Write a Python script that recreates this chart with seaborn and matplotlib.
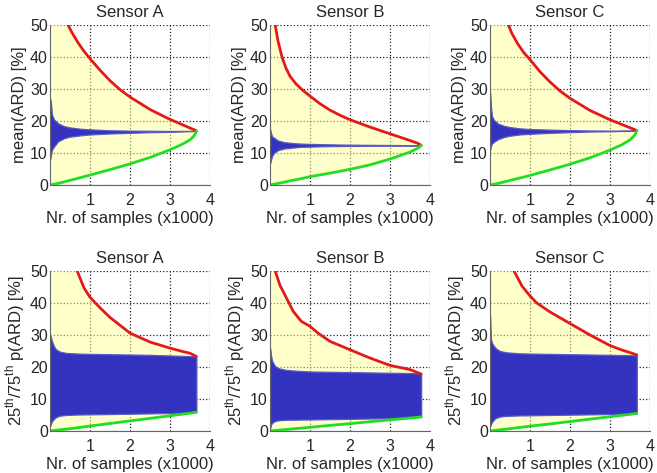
import numpy as np
import pandas as pd
import matplotlib
matplotlib.use('Agg')
import matplotlib.pyplot as plt
import seaborn as sns

sns.set_style('white')
plt.rcParams['font.family'] = ['Liberation Sans', 'DejaVu Sans']
plt.rcParams['mathtext.fontset'] = 'custom'
plt.rcParams['mathtext.rm'] = 'Liberation Sans'
plt.rcParams['axes.unicode_minus'] = False

sensors = ['Sensor A', 'Sensor B', 'Sensor C']
ylabels = ['mean(ARD) [%]', r'25$^{\mathrm{th}}$/75$^{\mathrm{th}}$ p(ARD) [%]']

# ---- top row: mean(ARD) ----
# bounds (red = upper, green = lower), x in thousands of samples
mean_a_x = [0, 0.2, 0.35, 0.45, 0.55, 0.7, 0.85, 1.0, 1.25, 1.5, 1.75, 2.0, 2.5, 3.0, 3.3, 3.5, 3.6, 3.63, 3.66]
mean_a_red = [85, 62, 54, 50, 47.6, 44.5, 41.8, 39.5, 35.9, 32.6, 29.8, 27.5, 23.6, 20.5, 18.9, 17.8, 17.3, 17.1, 16.9]
mean_a_green = [0, 0.5, 0.95, 1.3, 1.6, 2.1, 2.6, 3.1, 3.95, 4.8, 5.7, 6.6, 8.6, 11.0, 12.7, 14.1, 15.3, 15.9, 16.9]

mean_b_x = [0, 0.05, 0.13, 0.2, 0.3, 0.4, 0.5, 0.65, 0.82, 1.0, 1.25, 1.5, 1.75, 2.0, 2.5, 3.0, 3.5, 3.7, 3.78]
mean_b_red = [90, 68, 50, 45, 40, 36.5, 34, 31.6, 29.6, 27.8, 25.4, 23.4, 21.8, 20.4, 18.1, 16.0, 13.9, 13.0, 12.4]
mean_b_green = [0, 0.15, 0.35, 0.5, 0.75, 1.0, 1.3, 1.65, 2.1, 2.6, 3.15, 3.7, 4.3, 4.9, 6.3, 8.1, 10.3, 11.5, 12.4]

mean_c_x = [0, 0.2, 0.35, 0.46, 0.55, 0.7, 0.85, 1.0, 1.25, 1.5, 1.75, 2.0, 2.5, 3.0, 3.3, 3.5, 3.6, 3.64, 3.67]
mean_c_red = [85, 63, 55, 50, 47.3, 44.0, 41.3, 39.2, 35.4, 32.2, 29.4, 27.1, 23.3, 20.4, 18.9, 17.9, 17.4, 17.2, 17.0]
mean_c_green = [0, 0.5, 0.95, 1.3, 1.6, 2.05, 2.5, 3.0, 3.85, 4.7, 5.6, 6.5, 8.5, 10.9, 12.6, 14.1, 15.3, 16.0, 17.0]

# spread of the sub-sampled estimates (blue band)
band_top_x_a = [0, 0.02, 0.05, 0.1, 0.2, 0.35, 0.5, 0.75, 1.0, 1.5, 2.0, 2.5, 3.0, 3.4, 3.66]
band_top_x_b = [0, 0.02, 0.05, 0.1, 0.2, 0.35, 0.5, 0.75, 1.0, 1.5, 2.0, 2.5, 3.0, 3.5, 3.78]
band_top_x_c = [0, 0.02, 0.05, 0.1, 0.2, 0.35, 0.5, 0.75, 1.0, 1.5, 2.0, 2.5, 3.0, 3.4, 3.67]
mean_a_hi = [27, 26, 22, 20.5, 19.3, 18.4, 18.0, 17.6, 17.4, 17.1, 17.0, 16.95, 16.9, 16.9, 16.9]
mean_a_lo = [8, 9, 11, 12.0, 13.6, 14.6, 15.1, 15.5, 15.8, 16.1, 16.3, 16.5, 16.6, 16.8, 16.9]
mean_b_hi = [17.5, 16.5, 15.2, 14.8, 13.9, 13.4, 13.2, 12.95, 12.85, 12.7, 12.6, 12.55, 12.5, 12.45, 12.4]
mean_b_lo = [6.8, 7.5, 9.0, 10.0, 10.9, 11.4, 11.6, 11.9, 12.0, 12.15, 12.2, 12.25, 12.3, 12.35, 12.4]
mean_c_hi = [29, 25, 21.5, 20.3, 19.2, 18.5, 18.1, 17.7, 17.5, 17.3, 17.15, 17.05, 17.0, 17.0, 17.0]
mean_c_lo = [11, 12, 13, 13.5, 14.3, 15.0, 15.4, 15.8, 16.0, 16.3, 16.5, 16.7, 16.8, 16.9, 17.0]

# ---- bottom row: 25th/75th percentile ----
pct_a_x = [0, 0.2, 0.45, 0.68, 0.85, 1.0, 1.25, 1.5, 2.0, 2.5, 3.0, 3.3, 3.5, 3.66]
pct_a_red = [100, 75, 58, 50, 44.7, 41.8, 38.5, 35.5, 30.6, 27.8, 25.9, 24.9, 24.3, 23.3]
pct_a_green = [0, 0.3, 0.65, 1.0, 1.3, 1.55, 1.95, 2.35, 3.15, 3.95, 4.75, 5.25, 5.55, 5.9]

pct_b_x = [0, 0.05, 0.13, 0.25, 0.37, 0.58, 0.78, 1.0, 1.2, 1.5, 2.0, 2.5, 3.0, 3.5, 3.78]
pct_b_red = [80, 62, 50, 45.5, 42.6, 37.4, 34.3, 32.7, 30.6, 28.0, 25.4, 22.8, 20.5, 19.2, 17.8]
pct_b_green = [0, 0.06, 0.15, 0.3, 0.43, 0.67, 0.9, 1.15, 1.4, 1.75, 2.3, 2.9, 3.5, 4.05, 4.4]

pct_c_x = [0, 0.2, 0.45, 0.6, 0.8, 1.0, 1.17, 1.5, 2.0, 2.5, 3.0, 3.3, 3.5, 3.67]
pct_c_red = [95, 72, 56, 50, 45.3, 42.2, 40.0, 37.2, 33.6, 30.0, 26.7, 25.3, 24.5, 23.8]
pct_c_green = [0, 0.3, 0.65, 0.9, 1.2, 1.5, 1.75, 2.2, 2.95, 3.7, 4.45, 4.9, 5.2, 5.5]

band_bot_x_a = [0, 0.02, 0.05, 0.1, 0.15, 0.25, 0.4, 0.7, 1.0, 1.5, 2.0, 2.5, 3.0, 3.5, 3.66]
band_bot_x_b = [0, 0.02, 0.05, 0.1, 0.15, 0.25, 0.4, 0.7, 1.0, 1.5, 2.0, 2.5, 3.0, 3.5, 3.78]
band_bot_x_c = [0, 0.02, 0.05, 0.1, 0.15, 0.25, 0.4, 0.7, 1.0, 1.5, 2.0, 2.5, 3.0, 3.5, 3.67]
pct_a_hi = [30, 29.5, 28, 26.5, 25.5, 24.8, 24.4, 24.2, 24.1, 24.0, 23.9, 23.8, 23.6, 23.4, 23.3]
pct_a_lo = [1.5, 2.2, 3.0, 3.8, 4.3, 4.8, 5.0, 5.15, 5.2, 5.3, 5.4, 5.5, 5.6, 5.8, 5.9]
pct_b_hi = [26, 24, 22, 20.8, 20.0, 19.5, 19.1, 18.8, 18.6, 18.5, 18.4, 18.3, 18.2, 18.1, 18.0]
pct_b_lo = [0.8, 1.8, 2.5, 2.9, 3.2, 3.4, 3.5, 3.55, 3.6, 3.7, 3.8, 3.9, 4.0, 4.2, 4.4]
pct_c_hi = [36, 29, 27.5, 26.5, 25.8, 25.0, 24.6, 24.3, 24.2, 24.1, 24.0, 23.9, 23.8, 23.7, 23.6]
pct_c_lo = [1.5, 2.0, 2.8, 3.6, 4.1, 4.5, 4.7, 4.85, 4.9, 5.0, 5.1, 5.2, 5.3, 5.45, 5.5]

panels = [
    [(mean_a_x, mean_a_red, mean_a_green, band_top_x_a, mean_a_hi, mean_a_lo),
     (mean_b_x, mean_b_red, mean_b_green, band_top_x_b, mean_b_hi, mean_b_lo),
     (mean_c_x, mean_c_red, mean_c_green, band_top_x_c, mean_c_hi, mean_c_lo)],
    [(pct_a_x, pct_a_red, pct_a_green, band_bot_x_a, pct_a_hi, pct_a_lo),
     (pct_b_x, pct_b_red, pct_b_green, band_bot_x_b, pct_b_hi, pct_b_lo),
     (pct_c_x, pct_c_red, pct_c_green, band_bot_x_c, pct_c_hi, pct_c_lo)],
]

W, H = 657, 473
fig = plt.figure(figsize=(W / 100, H / 100), dpi=100)

lefts = [50, 270, 490]
tops = [25, 271]
aw, ah = 160, 160

for r in range(2):
    for c in range(3):
        ax = fig.add_axes([lefts[c] / W, 1 - (tops[r] + ah) / H, aw / W, ah / H])
        bx, red, green, band_x, hi, lo = panels[r][c]

        ax.set_axisbelow(True)
        ax.grid(True, linestyle=':', color='#222222', linewidth=0.9)

        ax.fill_between(bx, green, red, color='#ffff99', alpha=0.5, linewidth=0)
        # blue band (thin blue edge keeps the converged tail visible)
        ax.fill_between(band_x, lo, hi, facecolor='#3333bf', edgecolor='#5a5ac8',
                        linewidth=0.9)

        df = pd.DataFrame({'x': bx, 'red': red, 'green': green})
        sns.lineplot(data=df, x='x', y='red', ax=ax, color='#e41a1a', lw=2.0,
                     estimator=None)
        sns.lineplot(data=df, x='x', y='green', ax=ax, color='#22dd22', lw=2.0,
                     estimator=None)

        ax.set_xlim(0, 4)
        ax.set_ylim(0, 50)
        ax.set_xticks([1, 2, 3, 4])
        ax.set_yticks([0, 10, 20, 30, 40, 50])
        ax.tick_params(axis='x', labelsize=11.5, pad=6, length=0)
        ax.tick_params(axis='y', labelsize=11.5, pad=1.5, length=0)
        for side in ['top', 'right']:
            ax.spines[side].set_visible(False)
        for side in ['left', 'bottom']:
            ax.spines[side].set_color('#666666')
            ax.spines[side].set_linewidth(0.8)

        ax.set_title(sensors[c], fontsize=12, pad=6)
        ax.set_xlabel('Nr. of samples (x1000)', fontsize=12, labelpad=2)
        ax.set_ylabel(ylabels[r], fontsize=12, labelpad=2)

fig.savefig('out.png', dpi=100)
